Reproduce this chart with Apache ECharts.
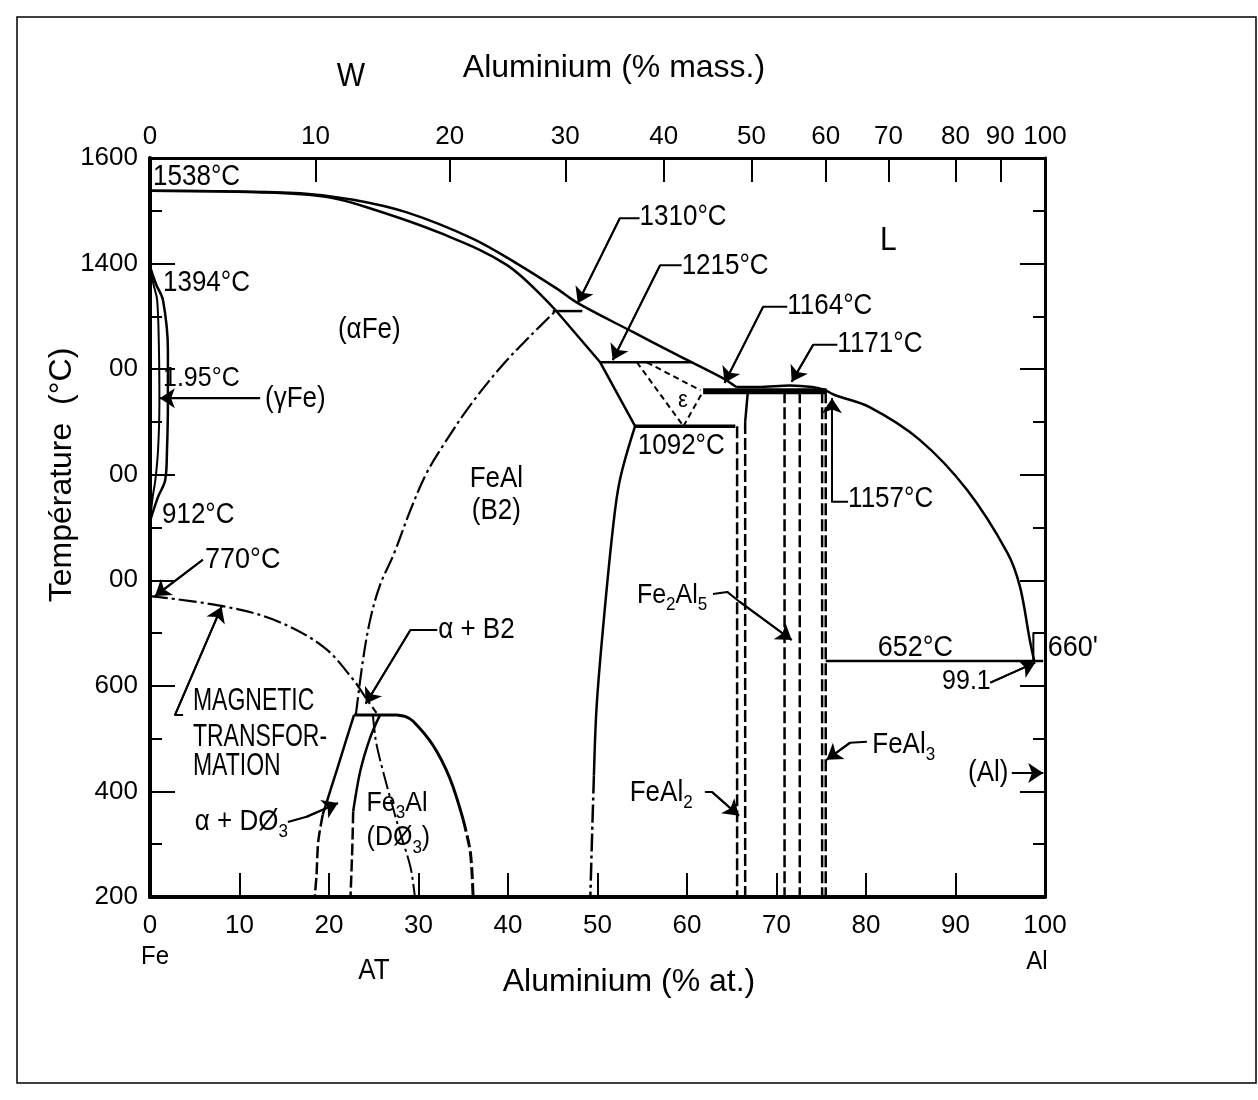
<!DOCTYPE html>
<html><head><meta charset="utf-8">
<script src="https://cdn.jsdelivr.net/npm/echarts@6/dist/echarts.min.js"></script>
<style>html,body{margin:0;padding:0;background:#fff}#c{width:1258px;height:1100px}</style>
</head><body><div id="c"></div><script>
// ---------- axis ticks ----------
const atTicks = [0,10,20,30,40,50,60,70,80,90,100];
const massTickAt = [0,18.5,33.5,46.4,57.4,67.2,75.5,82.5,90.0,95.0,100];
const massTickLabels = ['0','10','20','30','40','50','60','70','80','90','100'];
const yTicks = [200,400,600,800,1000,1200,1400,1600];
const yTickLabels = ['200','400','600','00','00','00','1400','1600'];

// ---------- phase boundaries (at.% Al, °C) ----------
const liquidusLeft = [[0,1538],[8,1537],[16.8,1533],[22.7,1521],[28.7,1497],[36.1,1447],[41,1400],[45.5,1352],[47.7,1326],[54,1270],[59,1226],[64,1183],[65.5,1166]];
const liquidusTop = [[65.5,1166],[68,1166],[71.5,1169],[74,1166],[75.5,1160]];
const liquidusRight = [[75.5,1160],[76.5,1151],[80.4,1128],[86,1066],[91.3,971],[95.8,852],[97.2,788],[98.3,687],[98.8,647]];
const solidusAlpha = [[0,1538],[12,1535],[19.8,1526],[24.9,1503],[32.4,1458],[39.9,1397],[45.3,1312]];
const alphaSolvus = [[45.3,1312],[50.3,1213],[54.2,1092]];
const b2Order = [[23,545],[23.8,649],[24.6,725],[25.7,791],[27.2,848],[29.1,933],[30.9,1003],[33,1062],[35.8,1132],[39.4,1208],[42.5,1263],[45.3,1310]];
const b2RightSolid = [[54.2,1092],[52.5,990],[51.7,895],[50.6,706],[49.9,560],[49.6,430]];
const b2RightDashed = [[49.6,430],[49.4,320],[49.2,200]];
const magnetic = [[0,770],[7.8,752],[13.7,726],[19.3,675],[22.7,612],[24.2,575],[25.3,549]];
const gammaOuter = [[0,1394],[0.7,1360],[1.45,1331],[2.0,1236],[2.0,1136],[1.9,1047],[1.7,990],[0.9,958],[0,912]];
const gammaInner = [[0,1394],[0.4,1360],[0.8,1331],[1.0,1236],[1.05,1136],[0.9,1047],[0.6,990],[0.3,958],[0,912]];
const epsLeft = [[54.4,1213],[59.6,1092]];
const epsTop = [[55.5,1213],[61.5,1160]];
const epsRight = [[59.6,1092],[61.8,1158]];
const iso1310 = [[45,1310],[48.3,1310]];
const iso1215 = [[50.3,1213],[60.6,1213]];
const iso1092 = [[54.2,1092],[65.4,1092]];
const iso1160 = [[61.8,1158],[75.6,1158]];
const iso652 = [[75.5,647],[99.8,647]];
const iso545 = [[22.8,545],[27.6,545]];
const alphaD03Solid = [[22.8,545],[20.9,442],[19.3,356]];
const alphaD03Dashed = [[19.3,356],[18.8,305],[18.6,240],[18.4,200]];
const d03LeftSolid = [[25.7,545],[24.6,502],[23.5,439],[22.7,362]];
const d03LeftDashed = [[22.7,362],[22.6,291],[22.4,200]];
const d03DomeSolid = [[27.6,545],[28.5,542],[29.4,533],[31.6,488],[33.5,425],[35,346]];
const d03DomeDashed = [[35,346],[35.8,284],[36.1,200]];
const d03B2 = [[24.9,545],[25.3,490],[26.5,409],[27.8,330],[29.1,257],[29.6,200]];
const feAl2Left = [[65.6,1092],[65.6,200]];
const feAl2RightSolid = [[66.8,1158],[66.5,1100]];
const feAl2Right = [[66.5,1100],[66.5,200]];
const fe2Al5Left = [[70.9,1158],[70.9,200]];
const fe2Al5Right = [[72.6,1158],[72.6,200]];
const feAl3Left = [[75.1,1158],[75.1,200]];
const feAl3Right = [[75.5,1158],[75.5,200]];
const bracket660 = [[98.7,645],[98.7,700],[99.9,700]];

// ---------- annotation leaders (arrow at last point) ----------
const leaders = [
 [[5.9,839],[0.56,770]],
 [[12.3,1145],[1.1,1145]],
 [[3.7,545],[2.8,545],[8.0,750]],
 [[32.1,706],[29.1,706],[24.1,566]],
 [[15.4,342],[17.5,352],[21.0,378]],
 [[54.7,1486],[52.5,1486],[47.8,1325]],
 [[59.4,1397],[57.0,1397],[51.7,1217]],
 [[71.2,1318],[68.5,1318],[64.2,1174]],
 [[76.8,1246],[74.1,1246],[71.7,1176]],
 [[78.0,949],[76.2,949],[76.2,1145]],
 [[62.9,774],[64.5,778],[65.9,759],[71.7,687]],
 [[62.0,399],[62.8,399],[65.8,354]],
 [[80.1,494],[78.2,492],[75.6,460]],
 [[96.3,435],[99.8,435]],
 [[93.9,606],[98.9,644]]
];

// ---------- annotation texts ----------
const notes = [
 {t:'1538°C', x:0.34, T:1564, fs:26},
 {t:'1394°C', x:1.45, T:1363, fs:26},
 {t:'(αFe)', x:21.0, T:1274, fs:26},
 {t:'1.95°C', x:1.45, T:1183, fs:25},
 {t:'(γFe)', x:12.85, T:1144, fs:26},
 {t:'912°C', x:1.34, T:924, fs:26},
 {t:'770°C', x:6.15, T:839, fs:27},
 {t:'MAGNETIC', x:4.8, T:570, fs:23, sy:1.35},
 {t:'TRANSFOR-', x:4.8, T:503, fs:23, sy:1.35},
 {t:'MATION', x:4.8, T:447, fs:23, sy:1.35},
 {t:'α + B2', x:32.2, T:706, fs:26},
 {t:'α + DØ{s|3}', x:5.0, T:342, fs:26},
 {t:'Fe{s|3}Al', x:24.2, T:378, fs:25},
 {t:'(DØ{s|3})', x:24.2, T:312, fs:25},
 {t:'FeAl', x:38.7, T:992, fs:26, a:'center'},
 {t:'(B2)', x:38.7, T:931, fs:26, a:'center'},
 {t:'1310°C', x:54.7, T:1488, fs:26},
 {t:'1215°C', x:59.4, T:1395, fs:26},
 {t:'1164°C', x:71.2, T:1320, fs:26},
 {t:'1171°C', x:76.8, T:1248, fs:26},
 {t:'ε', x:59.55, T:1140, fs:22, a:'center'},
 {t:'1092°C', x:54.5, T:1055, fs:26},
 {t:'1157°C', x:78.0, T:954, fs:26},
 {t:'L', x:82.5, T:1443, fs:30, a:'center'},
 {t:'Fe{s|2}Al{s|5}', x:54.4, T:772, fs:25},
 {t:'FeAl{s|2}', x:53.6, T:397, fs:26},
 {t:'FeAl{s|3}', x:80.7, T:488, fs:26},
 {t:'(Al)', x:91.4, T:435, fs:26},
 {t:'652°C', x:81.3, T:672, fs:27},
 {t:"660'", x:100.3, T:672, fs:27},
 {t:'99.1', x:88.5, T:608, fs:25}
];

const FONT = 'Liberation Sans, Arial, Helvetica, sans-serif';
const DASHDOT = [18,4,3,4];
const DASH = [12,4];
const series = [];
function add(data, w, type, z, smooth){
  series.push({type:'line', data:data, symbol:'none', showSymbol:false, silent:true, clip:false, animation:false,
    xAxisIndex:0, yAxisIndex:0, smooth: smooth || false,
    lineStyle:{color:'#000', width:w, type:type||'solid', join:'round'}, z:z||2});
}
add(liquidusLeft,2.5,'solid',2,0.35); add(liquidusTop,2.5,'solid',2,0.3); add(liquidusRight,2.5,'solid',2,0.35);
add(solidusAlpha,2.5,'solid',2,0.35); add(alphaSolvus,2.5);
add(b2Order,2.2,DASHDOT,2,0.35); add(b2RightSolid,2.5,'solid',2,0.35); add(b2RightDashed,2.5,DASHDOT,2,0.3);
add(magnetic,2.2,DASHDOT,2,0.35);
add(gammaOuter,2.5,'solid',2,0.35); add(gammaInner,2,'solid',2,0.35);
add(epsLeft,2,[6,4]); add(epsTop,2,[6,4]); add(epsRight,2,[6,4]);
add(iso1310,2.5); add(iso1215,2.5); add(iso1092,3.5); add(iso1160,6); add(iso652,2.5); add(iso545,3);
add(alphaD03Solid,2.5,'solid',2,0.3); add(alphaD03Dashed,2.5,DASH,2,0.3);
add(d03LeftSolid,2.5,'solid',2,0.3); add(d03LeftDashed,2.5,DASH,2,0.3);
add(d03DomeSolid,3,'solid',2,0.35); add(d03DomeDashed,3,DASH,2,0.3);
add(d03B2,2,DASHDOT,2,0.3);
add(feAl2Left,2.5,DASH); add(feAl2RightSolid,2.5); add(feAl2Right,2.5,DASH);
add(fe2Al5Left,2.5,DASH); add(fe2Al5Right,2.5,DASH);
add(feAl3Left,2.5,DASH); add(feAl3Right,2.5,DASH);
add(bracket660,2);
leaders.forEach(function(l){ add(l,2,'solid',4); });
series.push({type:'lines', coordinateSystem:'cartesian2d', xAxisIndex:0, yAxisIndex:0, polyline:false, silent:true, animation:false,
  data: leaders.map(function(l){ return {coords:[l[l.length-2], l[l.length-1]]}; }),
  symbol:['none','arrow'], symbolSize:[1,15],
  lineStyle:{color:'#000', width:2, opacity:1, curveness:0}, z:5});

const chart = echarts.init(document.getElementById('c'), null, {renderer:'canvas'});
const axisLab = {color:'#000', fontSize:26, fontFamily:FONT};
chart.setOption({
  backgroundColor:'#fff',
  animation:false,
  grid:{left:150, right:213, top:158, bottom:203},
  xAxis:[
    {type:'value', position:'bottom', min:0, max:100, interval:10,
     axisLine:{show:true, onZero:false, lineStyle:{color:'#000', width:4}},
     axisTick:{show:true, inside:true, length:24, lineStyle:{color:'#000', width:2}},
     axisLabel:Object.assign({margin:16, formatter:function(v){ return atTicks.indexOf(v)>=0 ? String(v) : ''; }}, axisLab),
     splitLine:{show:false}},
    {type:'value', position:'top', min:0, max:100,
     axisLine:{show:true, onZero:false, lineStyle:{color:'#000', width:3}},
     axisTick:{show:true, inside:true, length:24, customValues:massTickAt, lineStyle:{color:'#000', width:2}},
     axisLabel:Object.assign({margin:8, customValues:massTickAt, formatter:function(v){ var i=massTickAt.indexOf(v); return i>=0?massTickLabels[i]:''; }}, axisLab),
     splitLine:{show:false}}
  ],
  yAxis:[
    {type:'value', position:'left', min:200, max:1600, interval:200,
     axisLine:{show:true, onZero:false, lineStyle:{color:'#000', width:4}},
     axisTick:{show:true, inside:true, length:25, lineStyle:{color:'#000', width:2}},
     minorTick:{show:true, splitNumber:2, length:12, lineStyle:{color:'#000', width:2}},
     axisLabel:Object.assign({margin:12, formatter:function(v){ var i=yTicks.indexOf(v); return i>=0?yTickLabels[i]:''; }}, axisLab),
     splitLine:{show:false}, minorSplitLine:{show:false}},
    {type:'value', position:'right', min:200, max:1600, interval:200,
     axisLine:{show:true, onZero:false, lineStyle:{color:'#000', width:3}},
     axisTick:{show:true, inside:true, length:25, lineStyle:{color:'#000', width:2}},
     minorTick:{show:true, splitNumber:2, length:12, lineStyle:{color:'#000', width:2}},
     axisLabel:{show:false}, splitLine:{show:false}, minorSplitLine:{show:false}}
  ],
  series:series
});

const rich = {s:{fontSize:17, fontFamily:FONT, fill:'#000', padding:[18,0,0,0]}};
const graphics = [];
graphics.push({type:'rect', shape:{x:17, y:17, width:1239, height:1066}, style:{fill:null, stroke:'#000', lineWidth:1.5}, silent:true, z:0});
function txt(text, x, y, fs, align, sy, rot){
  graphics.push({type:'text', x:x, y:y, scaleY:sy||1, rotation:rot||0, silent:true, z:10,
    style:{text:text, fontSize:fs, fontFamily:FONT, fill:'#000', align:align||'left', verticalAlign:'middle',
           textAlign:align||'left', textVerticalAlign:'middle', rich:rich}});
}
notes.forEach(function(n){
  var p = chart.convertToPixel({xAxisIndex:0, yAxisIndex:0}, [n.x, n.T]);
  txt(n.t, p[0], p[1], n.fs, n.a||'left', n.sy||1.1);
});
txt('W', 351, 77, 30, 'center', 1.1);
txt('Aluminium (% mass.)', 614, 68, 32, 'center', 1);
txt('Aluminium (% at.)', 629, 982, 32, 'center', 1);
txt('Température  (°C)', 62, 475, 32, 'center', 1, Math.PI/2);
txt('Fe', 155, 957, 24, 'center', 1.1);
txt('AT', 374, 971, 26, 'center', 1.1);
txt('Al', 1037, 962, 24, 'center', 1.1);
chart.setOption({graphic:graphics});
</script></body></html>
